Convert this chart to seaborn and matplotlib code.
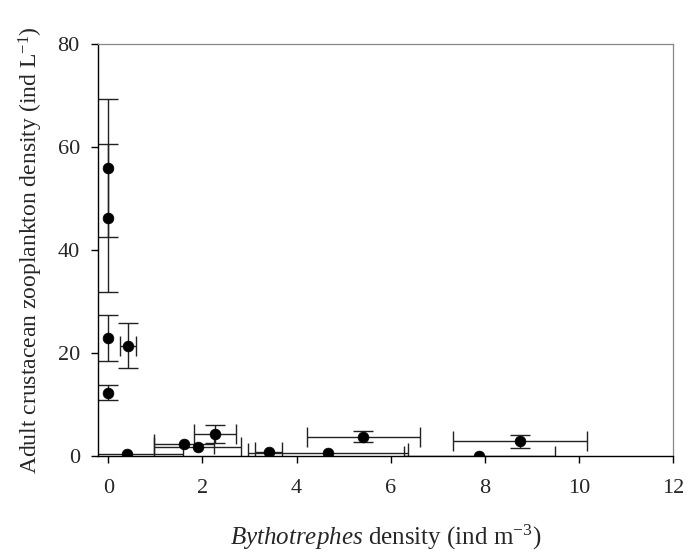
"""
plot.py
Adult crustacean zooplankton density vs Bythotrephes density,
with standard error bars in both directions.
"""

import numpy as np
import pandas as pd
import matplotlib
matplotlib.use('Agg')
import matplotlib.pyplot as plt
import seaborn as sns

# values
bytho_density = [0.0, 0.0, 0.0, 0.0, 0.42, 0.39, 1.61, 1.90, 2.27, 3.41, 4.67, 5.42, 7.88, 8.75]
zoop_density = [56.0, 46.3, 23.0, 12.4, 21.5, 0.5, 2.5, 1.8, 4.4, 0.8, 0.7, 3.8, 0.1, 2.9]
bytho_se = [0.0, 0.0, 0.0, 0.0, 0.18, 1.19, 0.63, 0.93, 0.44, 0.29, 1.70, 1.20, 1.60, 1.43]
zoop_se = [13.4, 14.3, 4.4, 1.4, 4.4, 0.0, 0.0, 0.0, 1.75, 0.0, 0.0, 1.1, 0.0, 1.3]

x_ticks = [0, 2, 4, 6, 8, 10, 12]
y_ticks = [0, 20, 40, 60, 80]

df = pd.DataFrame({
    'bytho': bytho_density,
    'zoop': zoop_density,
    'bytho_se': bytho_se,
    'zoop_se': zoop_se,
})

sns.set_style('ticks')
plt.rcParams['font.family'] = ['Liberation Serif', 'DejaVu Serif']
plt.rcParams['mathtext.fontset'] = 'custom'
plt.rcParams['mathtext.rm'] = 'Liberation Serif'
plt.rcParams['mathtext.it'] = 'Liberation Serif:italic'

fig = plt.figure(figsize=(6.99, 5.6), dpi=100)
ax = fig.add_axes([0.140, 0.185, 0.823, 0.736])

# horizontal error bars (only where there is one)
xe = df[df['bytho_se'] > 0]
ax.errorbar(xe['bytho'], xe['zoop'], xerr=xe['bytho_se'], fmt='none',
            ecolor='#222222', elinewidth=1.0, capsize=7, capthick=1.0, zorder=2)

# vertical error bars
ye = df[df['zoop_se'] > 0]
ax.errorbar(ye['bytho'], ye['zoop'], yerr=ye['zoop_se'], fmt='none',
            ecolor='#222222', elinewidth=1.0, capsize=7, capthick=1.0, zorder=2)

sns.scatterplot(data=df, x='bytho', y='zoop', ax=ax, color='black',
                s=60, edgecolor='black', linewidth=0.5, zorder=3, legend=False)

ax.set_xlim(-0.22, 12)
ax.set_ylim(0, 80)
ax.set_xticks(x_ticks)
ax.set_yticks(y_ticks)
ax.tick_params(axis='both', direction='out', length=5, width=1, labelsize=16,
               color='black')
ax.tick_params(axis='x', pad=11)
ax.tick_params(axis='y', pad=8)

for side in ['left', 'bottom']:
    ax.spines[side].set_color('black')
    ax.spines[side].set_linewidth(1.0)
for side in ['top', 'right']:
    ax.spines[side].set_visible(True)
    ax.spines[side].set_color('#888888')
    ax.spines[side].set_linewidth(0.9)

ax.set_xlabel(r'$Bythotrephes$ density (ind m$^{-3}$)', fontsize=18, labelpad=18)
ax.set_ylabel(r'Adult crustacean zooplankton density (ind L$^{-1}$)', fontsize=17, labelpad=9)

fig.savefig('out.png', dpi=100)
plt.close(fig)
